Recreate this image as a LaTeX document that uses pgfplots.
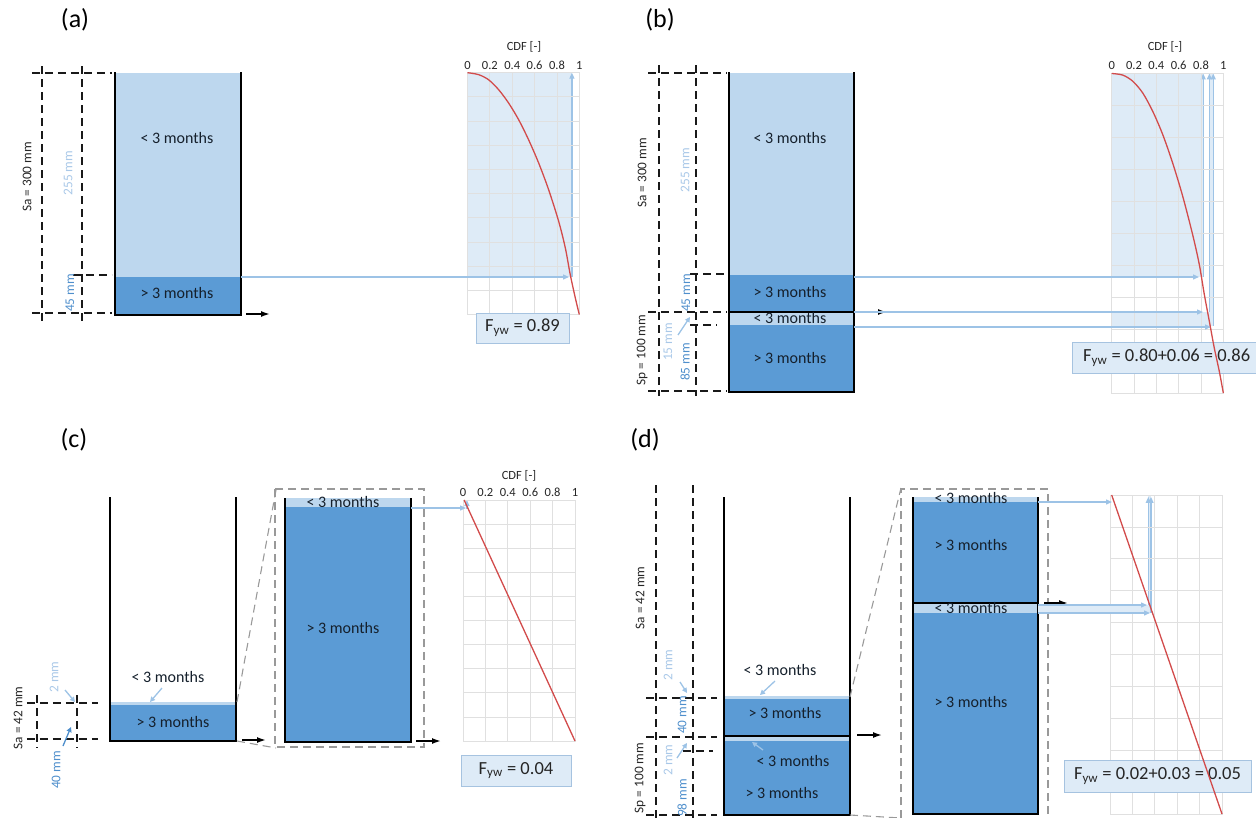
\documentclass[border=0pt]{standalone}
\usepackage{pgfplots}
\pgfplotsset{compat=1.18}
\usepackage{fontspec}
\setmainfont{Carlito}
\usetikzlibrary{arrows.meta}
\definecolor{lfill}{HTML}{BDD7EE}
\definecolor{dfill}{HTML}{5B9BD5}
\definecolor{lbline}{HTML}{9DC3E6}
\definecolor{cfill}{HTML}{DEEBF7}
\definecolor{boxc}{HTML}{DEEBF7}
\definecolor{boxb}{HTML}{A6C3E0}
\definecolor{redc}{HTML}{D24B4B}
\definecolor{gridc}{HTML}{E0E0E0}
\definecolor{txtc}{HTML}{262626}
\definecolor{btxt}{HTML}{15202C}
\definecolor{mlb}{HTML}{A9C8E8}
\definecolor{mdb}{HTML}{4F8FCC}
\pgfplotsset{/pgf/number format/assume math mode=true}
\tikzset{
 lab/.style={font=\fontsize{16bp}{19bp}\selectfont, text=btxt, inner sep=0pt},
 rlab/.style={rotate=90, font=\fontsize{13.3bp}{15bp}\selectfont, inner sep=0pt, text=txtc},
 pan/.style={font=\fontsize{26bp}{30bp}\selectfont, text=black, inner sep=0pt},
 fyw/.style={font=\fontsize{18.5bp}{22bp}\selectfont, text=txtc, inner sep=0pt},
 cdft/.style={font=\fontsize{12.5bp}{14bp}\selectfont, text=txtc, inner sep=0pt},
 wall/.style={draw=black, line width=2.2bp},
 dsh/.style={draw=black!90, line width=1.25bp, dash pattern=on 8bp off 5bp},
 gdsh/.style={draw=black!40, line width=1.1bp, dash pattern=on 8bp off 5bp},
 lba/.style={draw=lbline, line width=1.3bp, -{Triangle[length=6bp,width=5bp]}},
 bka/.style={draw=black, line width=1.6bp, -{Latex[length=9bp,width=6bp]}},
 sba/.style={line width=1.3bp, -{Triangle[length=5bp,width=5bp]}},
}
\pgfplotsset{
 cdfbase/.style={anchor=center, scale only axis, xmin=0, xmax=1, ymin=0, y dir=reverse,
   grid=major, major grid style={draw=gridc, line width=0.8bp},
   axis line style={draw=gridc, line width=0.8bp}, major tick length=0pt,
   xtick={0,0.2,0.4,0.6,0.8,1}, xticklabel pos=right, yticklabels={},
   ticklabel style={font=\fontsize{12.5bp}{14bp}\selectfont, text=txtc},
   axis on top, clip=false},
 cdfover/.style={anchor=center, scale only axis, xmin=0, xmax=1, ymin=0, y dir=reverse,
   hide axis, clip=false},
 redcurve/.style={draw=redc, line width=1.3bp, no marks},
}
\begin{document}
\begin{tikzpicture}
\useasboundingbox (0,0) rectangle (1256bp,818bp);

% ---------- CDF base axes ----------
\begin{axis}[cdfbase, at={(523.4bp,624.4bp)}, width=111.8bp, height=241.8bp, ymax=300, ytick={0,30,...,300}]
 \fill[cfill] (0,0) rectangle (0.934,253);
 \draw[lba] (0.934,253) -- (0.934,0);
\end{axis}
\begin{axis}[cdfbase, at={(1167.5bp,584.75bp)}, width=111.6bp, height=319.5bp, ymax=400, ytick={0,40,...,400}]
 \fill[cfill] (0,0) rectangle (0.82,255);
 \fill[cfill] (0,298) rectangle (0.91,316);
 \fill[cfill] (0.875,0) rectangle (0.91,316);
 \draw[lba] (0.82,255) -- (0.82,0);
 \draw[lba] (0.875,298) -- (0.875,0);
 \draw[lba] (0.91,316) -- (0.91,0);
\end{axis}
\begin{axis}[cdfbase, at={(519bp,197.5bp)}, width=112bp, height=241bp, ymax=42, ytick={0,4.2,8.4,12.6,16.8,21,25.2,29.4,33.6,37.8,42}]
 \draw[lba] (0.035,1.6) -- (0.035,0);
\end{axis}
\begin{axis}[cdfbase, at={(1166bp,163.5bp)}, width=112bp, height=319bp, ymax=1, ytick={0,0.1,0.2,0.3,0.4,0.5,0.6,0.7,0.8,0.9,1}, xticklabels={}]
 \fill[cfill] (0.342,0) rectangle (0.366,0.37);
 \draw[lba] (0.342,0.345) -- (0.342,0.006);
 \draw[lba] (0.366,0.37) -- (0.366,0.006);
\end{axis}

% ---------- diagram axis in pixel units ----------
\begin{axis}[anchor=center, at={(628bp,409bp)}, width=1256bp, height=818bp, scale only axis,
  xmin=0, xmax=1256, ymin=0, ymax=818, y dir=reverse, hide axis, clip=false]

% ===== (a) =====
\node[pan] at (75,20) {(a)};
\fill[lfill] (115,73) rectangle (241,277);
\fill[dfill] (115,277) rectangle (241,314);
\draw[wall] (115,72) -- (115,315) -- (241,315) -- (241,72);
\node[lab] at (177,138) {< 3 months};
\node[lab] at (177,293) {> 3 months};
\draw[dsh] (42,66) -- (42,322);
\draw[dsh] (82,66) -- (82,322);
\draw[dsh] (32,73) -- (112,73);
\draw[dsh] (73,275) -- (112,275);
\draw[dsh] (32,313) -- (112,313);
\node[rlab] at (27,177) {Sa = 300 mm};
\node[rlab, text=mlb] at (68,173) {255 mm};
\node[rlab, text=mdb] at (70,293) {45 mm};
\draw[bka] (246,314) -- (270,314);
\draw[lba] (241,277) -- (569,277);
\node[cdft] at (524,47) {CDF [-]};
\filldraw[fill=boxc, draw=boxb, line width=1bp] (476,313) rectangle (569,343);
\node[fyw] at (522.5,328) {F\textsubscript{yw} = 0.89};

% ===== (b) =====
\node[pan] at (660,20) {(b)};
\fill[lfill] (729,73) rectangle (854,275);
\fill[dfill] (729,275) rectangle (854,312);
\fill[lfill] (729,312) rectangle (854,325);
\fill[dfill] (729,325) rectangle (854,392);
\draw[draw=black, line width=2bp] (729,312) -- (854,312);
\draw[wall] (729,72) -- (729,392) -- (854,392) -- (854,72);
\node[lab] at (790,138) {< 3 months};
\node[lab] at (790,292) {> 3 months};
\node[lab] at (790,318) {< 3 months};
\node[lab] at (790,358) {> 3 months};
\draw[dsh] (659,65) -- (659,396);
\draw[dsh] (696,65) -- (696,396);
\draw[dsh] (648,73) -- (727,73);
\draw[dsh] (690,274) -- (727,274);
\draw[dsh] (648,312) -- (727,312);
\draw[dsh] (690,325) -- (717,325);
\draw[dsh] (648,391) -- (727,391);
\node[rlab] at (642,173) {Sa = 300 mm};
\node[rlab] at (642,350) {Sp = 100 mm};
\node[rlab, text=mlb] at (685,170) {255 mm};
\node[rlab, text=mdb] at (686,293) {45 mm};
\node[rlab, text=mlb] at (668,342) {15 mm};
\node[rlab, text=mdb] at (685,362) {85 mm};
\draw[sba, draw=lbline] (678,335) -- (690,317);
\draw[bka] (861,312) -- (887,312);
\draw[lba] (854,277) -- (1199,277);
\draw[lba] (854,312) -- (1203,312);
\draw[lba] (854,327) -- (1211,327);
\node[cdft] at (1165,47) {CDF [-]};
\fill[boxc] (1072,342) rectangle (1256,373);
\draw[draw=boxb, line width=1bp] (1256,342) -- (1072,342) -- (1072,373) -- (1256,373);
\node[fyw, anchor=west] at (1083,358) {F\textsubscript{yw} = 0.80+0.06 = 0.86};

% ===== (c) =====
\node[pan] at (74,440) {(c)};
\fill[lfill] (110,702) rectangle (236,704.5);
\fill[dfill] (110,704.5) rectangle (236,741);
\draw[wall] (110,497) -- (110,741) -- (236,741) -- (236,497);
\node[lab] at (168,677) {< 3 months};
\node[lab] at (173,722) {> 3 months};
\draw[sba, draw=lbline] (162,688) -- (150,702);
\draw[dsh] (27,703) -- (98,703);
\draw[dsh] (27,739) -- (98,739);
\draw[dsh] (37,695) -- (37,748);
\draw[dsh] (77,695) -- (77,748);
\node[rlab] at (18,718) {Sa = 42 mm};
\node[rlab, text=mlb] at (54,677) {2 mm};
\node[rlab, text=mdb] at (56,770) {40 mm};
\draw[sba, draw=lbline] (65,690) -- (75,702);
\draw[sba, draw=mdb] (63,746) -- (71,727);
\draw[bka] (242,740) -- (266,740);
\draw[gdsh] (275,489) rectangle (424,747);
\draw[gdsh] (237,702) -- (276,490);
\draw[gdsh] (237,741) -- (276,748);
\fill[lfill] (285,498) rectangle (411,507);
\fill[dfill] (285,507) rectangle (411,742);
\draw[wall] (285,498) -- (285,742) -- (411,742) -- (411,498);
\node[lab] at (343,502) {< 3 months};
\node[lab] at (343,628) {> 3 months};
\draw[bka] (416,741) -- (441,741);
\draw[lba] (411,508) -- (466,508);
\node[cdft] at (519,476) {CDF [-]};
\filldraw[fill=boxc, draw=boxb, line width=1bp] (461,755) rectangle (571,786);
\node[fyw] at (516,770.5) {F\textsubscript{yw} = 0.04};

% ===== (d) =====
\node[pan] at (645,440) {(d)};
\draw[dsh] (656,485) -- (656,818);
\draw[dsh] (693,485) -- (693,818);
\draw[dsh] (646,698) -- (717,698);
\draw[dsh] (646,737) -- (717,737);
\draw[dsh] (683,751) -- (713,751);
\draw[dsh] (646,815) -- (717,815);
\fill[lfill] (724,696) rectangle (850,699);
\fill[dfill] (724,699) rectangle (850,737);
\fill[lfill] (724,737) rectangle (850,741);
\fill[dfill] (724,741) rectangle (850,815);
\draw[draw=black, line width=2bp] (724,736) -- (850,736);
\draw[wall] (724,497) -- (724,815) -- (850,815) -- (850,497);
\node[lab] at (780,670) {< 3 months};
\node[lab] at (785,713) {> 3 months};
\node[lab] at (793,761) {< 3 months};
\node[lab] at (782,793) {> 3 months};
\node[rlab] at (640,598) {Sa = 42 mm};
\node[rlab] at (640,778) {Sp = 100 mm};
\node[rlab, text=mlb] at (668,665) {2 mm};
\node[rlab, text=mdb] at (682,715) {40 mm};
\node[rlab, text=mlb] at (668,760) {2 mm};
\node[rlab, text=mdb] at (682,798) {98 mm};
\draw[sba, draw=lbline] (680,682) -- (687,693);
\draw[sba, draw=lbline] (775,681) -- (760,695);
\draw[sba, draw=lbline] (763,750) -- (752,742);
\draw[sba, draw=lbline] (677,758) -- (687,743);
\draw[bka] (857,735) -- (882,735);
\draw[gdsh] (850,697) -- (901,488);
\draw[gdsh] (850,815) -- (901,818);
\draw[gdsh] (901,818) -- (901,489) -- (1048,489) -- (1048,818);
\fill[lfill] (913,497) rectangle (1038,502);
\fill[dfill] (913,502) rectangle (1038,603);
\fill[lfill] (913,603) rectangle (1038,613);
\fill[dfill] (913,613) rectangle (1038,814);
\draw[draw=black, line width=2bp] (913,603) -- (1038,603);
\draw[wall] (913,497) -- (913,814) -- (1038,814) -- (1038,497);
\node[lab] at (971,498) {< 3 months};
\node[lab] at (971,545) {> 3 months};
\node[lab] at (971,608) {< 3 months};
\node[lab] at (971,702) {> 3 months};
\fill[cfill] (1038,605) rectangle (1150,613);
\draw[bka] (1044,603) -- (1068,603);
\draw[lba] (1038,502) -- (1112,502);
\draw[lba] (1038,605) -- (1147,605);
\draw[lba] (1038,613) -- (1150,613);
\filldraw[fill=boxc, draw=boxb, line width=1bp] (1064,760) rectangle (1251,792);
\node[fyw] at (1157.5,776) {F\textsubscript{yw} = 0.02+0.03 = 0.05};
\end{axis}

% ---------- CDF curves on top ----------
\begin{axis}[cdfover, at={(523.4bp,624.4bp)}, width=111.8bp, height=241.8bp, ymax=300]
 \addplot[redcurve, smooth] coordinates {(0,0) (0.099,2.4) (0.188,8.7) (0.278,21) (0.367,37.5) (0.457,58.2) (0.546,83.1) (0.636,111.9) (0.725,144.9) (0.815,184.2) (0.875,217.5) (0.919,250.5) (0.964,279.3) (1.0,300)};
\end{axis}
\begin{axis}[cdfover, at={(1167.5bp,584.75bp)}, width=111.6bp, height=319.5bp, ymax=400]
 \addplot[redcurve, smooth] coordinates {(0,0) (0.099,2) (0.188,9.6) (0.278,24.4) (0.367,47.2) (0.457,76.4) (0.546,112) (0.636,153.6) (0.725,201.6) (0.785,239.2) (0.830,276.8) (0.875,310.4) (0.919,343.6) (0.964,372.8) (1.0,400)};
\end{axis}
\begin{axis}[cdfover, at={(519bp,197.5bp)}, width=112bp, height=241bp, ymax=42]
 \addplot[redcurve] coordinates {(0.01,0) (1,42)};
\end{axis}
\begin{axis}[cdfover, at={(1166bp,163.5bp)}, width=112bp, height=319bp, ymax=1]
 \addplot[redcurve] coordinates {(0.015,0) (1,1)};
\end{axis}
\end{tikzpicture}
\end{document}
